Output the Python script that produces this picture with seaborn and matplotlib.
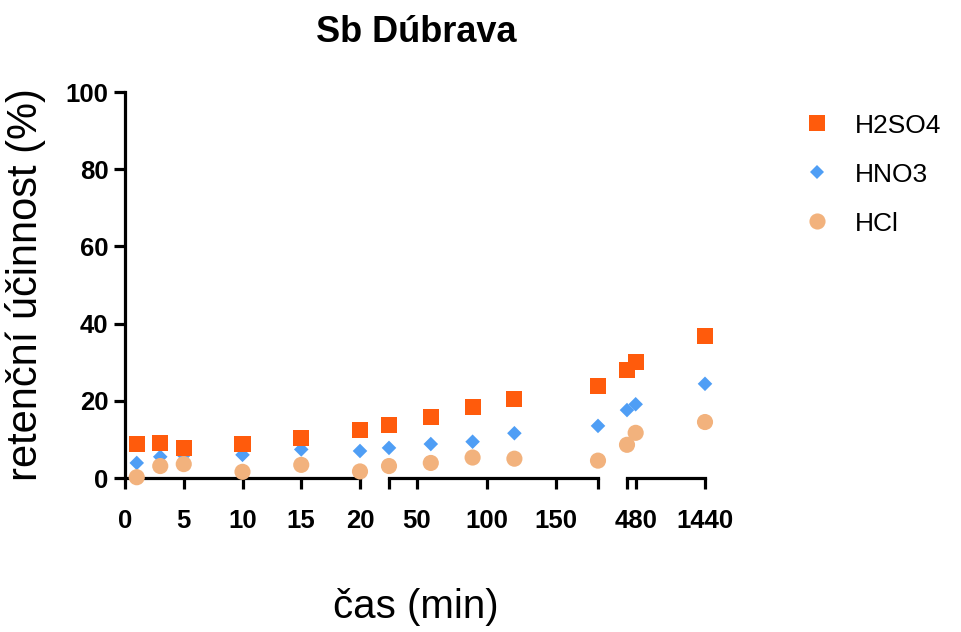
import numpy as np
import pandas as pd
import matplotlib
matplotlib.use("Agg")
import matplotlib.pyplot as plt
import seaborn as sns

# sampling times (min)
cas = [1, 3, 5, 10, 15, 20, 30, 60, 90, 120, 180, 360, 480, 1440]

# retention efficiency (%)
h2so4 = [8.8, 9.0, 7.8, 8.8, 10.4, 12.4, 13.7, 15.9, 18.4, 20.5, 23.8, 28.0, 30.1, 36.8]
hno3 = [3.9, 5.5, 5.9, 6.0, 7.4, 7.0, 7.8, 8.8, 9.4, 11.6, 13.5, 17.6, 19.1, 24.4]
hcl = [0.2, 3.1, 3.6, 1.6, 3.4, 1.7, 3.1, 3.9, 5.3, 5.0, 4.5, 8.6, 11.7, 14.5]

acids = ["H2SO4", "HNO3", "HCl"]
y_ticks = [0, 20, 40, 60, 80, 100]

# broken x axis: (range, ticks, tick labels)
seg_ranges = [(0, 20), (30, 180), (360, 1440)]
seg_ticks = [[0, 5, 10, 15, 20], [30, 50, 100, 150, 180], [360, 480, 1440]]
seg_labels = [["0", "5", "10", "15", "20"], ["", "50", "100", "150", ""], ["", "480", "1440"]]

# draw order: diamonds below, then circles, squares on top
df = pd.concat([
    pd.DataFrame({"cas": cas, "val": hno3, "acid": "HNO3"}),
    pd.DataFrame({"cas": cas, "val": hcl, "acid": "HCl"}),
    pd.DataFrame({"cas": cas, "val": h2so4, "acid": "H2SO4"}),
], ignore_index=True)

palette = {"H2SO4": "#FF5B0C", "HNO3": "#4F9EF5", "HCl": "#F2B27D"}
markers = {"H2SO4": "s", "HNO3": "D", "HCl": "o"}
sizes = {"H2SO4": 135, "HNO3": 55, "HCl": 135}

sns.set_style("ticks")
plt.rcParams["font.family"] = ["Liberation Sans", "DejaVu Sans"]
plt.rcParams.update({"text.color": "black", "axes.labelcolor": "black",
                     "xtick.color": "black", "ytick.color": "black",
                     "axes.edgecolor": "black"})

fig = plt.figure(figsize=(9.61, 6.32), dpi=100)
W, H = 961, 632
seg_px = [(125, 360), (389, 598), (627, 705)]
top_px, bot_px = 92, 478

lw = 2.3
axes = []
for i, ((x0, x1), (lo, hi)) in enumerate(zip(seg_px, seg_ranges)):
    ax = fig.add_axes([x0 / W, 1 - bot_px / H, (x1 - x0) / W, (bot_px - top_px) / H])
    sub = df[(df["cas"] >= lo) & (df["cas"] <= hi)]
    sns.scatterplot(data=sub, x="cas", y="val", hue="acid", style="acid", size="acid",
                    hue_order=acids, style_order=acids, size_order=acids,
                    palette=palette, markers=markers, sizes=sizes,
                    linewidth=0, clip_on=False, legend=(i == 0), ax=ax, zorder=3)
    ax.set_xlim(lo, hi)
    ax.set_ylim(0, 100)
    ax.set_xticks(seg_ticks[i])
    ax.set_xticklabels(seg_labels[i], fontsize=18.5, fontweight="bold")
    ax.set_xlabel("")
    ax.set_ylabel("")
    ax.patch.set_alpha(0)
    for s in ["top", "right"]:
        ax.spines[s].set_visible(False)
    ax.spines["bottom"].set_linewidth(lw)
    ax.tick_params(axis="x", length=8, width=lw, pad=14)
    if i == 0:
        ax.spines["left"].set_linewidth(lw)
        ax.set_yticks(y_ticks)
        ax.set_yticklabels([str(t) for t in y_ticks], fontsize=18.5, fontweight="bold")
        ax.tick_params(axis="y", length=8, width=lw, pad=4)
        ax.set_ylabel("retenční účinnost (%)", fontsize=30, labelpad=14)
    else:
        ax.spines["left"].set_visible(False)
        ax.set_yticks([])
    axes.append(ax)

handles, labels = axes[0].get_legend_handles_labels()
axes[0].get_legend().remove()
fig.legend(handles, labels, loc="upper left", bbox_to_anchor=(780 / W, 1 - 103 / H),
           frameon=False, fontsize=19, handletextpad=0.45, labelspacing=0.95,
           borderaxespad=0)

fig.text(416 / W, 1 - 32 / H, "Sb Dúbrava", ha="center", va="center",
         fontsize=26, fontweight="bold")
fig.text(416 / W, 1 - 607 / H, "čas (min)", ha="center", va="center", fontsize=29)

fig.savefig("out.png", dpi=100)
